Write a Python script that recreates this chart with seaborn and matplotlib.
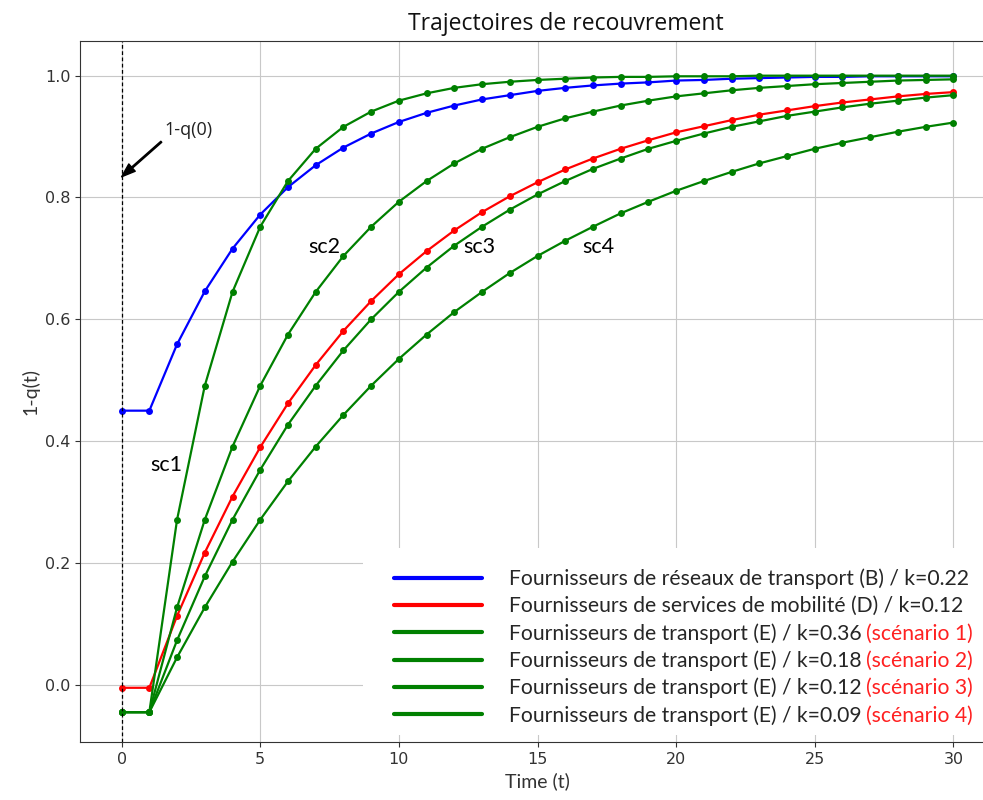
import numpy as np
import pandas as pd
import seaborn as sns
import matplotlib.pyplot as plt
from matplotlib.lines import Line2D
from matplotlib.patches import Rectangle

## data
temps = list(range(31))

reseaux_b = [0.45, 0.45, 0.559, 0.646, 0.716, 0.772, 0.817, 0.853, 0.882, 0.905,
             0.924, 0.939, 0.951, 0.961, 0.968, 0.975, 0.980, 0.984, 0.987, 0.989,
             0.992, 0.993, 0.995, 0.996, 0.997, 0.998, 0.998, 0.999, 0.999, 0.999, 0.999]
mobilite_d = [-0.005, -0.005, 0.113, 0.217, 0.309, 0.390, 0.462, 0.525, 0.581, 0.630,
              0.674, 0.712, 0.746, 0.776, 0.802, 0.825, 0.846, 0.864, 0.880, 0.894,
              0.907, 0.917, 0.927, 0.936, 0.943, 0.950, 0.956, 0.961, 0.966, 0.970, 0.973]
transport_sc1 = [-0.045, -0.045, 0.271, 0.491, 0.645, 0.752, 0.827, 0.880, 0.916, 0.941,
                 0.959, 0.971, 0.980, 0.986, 0.990, 0.993, 0.995, 0.997, 0.998, 0.998,
                 0.999, 0.999, 0.999, 1.0, 1.0, 1.0, 1.0, 1.0, 1.0, 1.0, 1.0]
transport_sc2 = [-0.045, -0.045, 0.127, 0.271, 0.391, 0.491, 0.575, 0.645, 0.704, 0.752,
                 0.793, 0.827, 0.856, 0.880, 0.899, 0.916, 0.930, 0.941, 0.951, 0.959,
                 0.966, 0.971, 0.976, 0.980, 0.983, 0.986, 0.988, 0.990, 0.992, 0.993, 0.994]
transport_sc3 = [-0.045, -0.045, 0.073, 0.178, 0.271, 0.353, 0.427, 0.491, 0.549, 0.600,
                 0.645, 0.685, 0.721, 0.752, 0.780, 0.805, 0.827, 0.847, 0.864, 0.880,
                 0.893, 0.905, 0.916, 0.925, 0.934, 0.941, 0.948, 0.954, 0.959, 0.964, 0.968]
transport_sc4 = [-0.045, -0.045, 0.045, 0.127, 0.202, 0.271, 0.334, 0.391, 0.443, 0.491,
                 0.535, 0.575, 0.612, 0.645, 0.676, 0.704, 0.729, 0.752, 0.774, 0.793,
                 0.811, 0.827, 0.842, 0.856, 0.868, 0.880, 0.890, 0.899, 0.908, 0.916, 0.923]

series = [reseaux_b, mobilite_d, transport_sc1, transport_sc2, transport_sc3, transport_sc4]
couleurs = ['blue', 'red', 'green', 'green', 'green', 'green']
legendes = ['Fournisseurs de réseaux de transport (B) / k=0.22',
            'Fournisseurs de services de mobilité (D) / k=0.12',
            'Fournisseurs de transport (E) / k=0.36',
            'Fournisseurs de transport (E) / k=0.18',
            'Fournisseurs de transport (E) / k=0.12',
            'Fournisseurs de transport (E) / k=0.09']
scenarios = ['', '', '(scénario 1)', '(scénario 2)', '(scénario 3)', '(scénario 4)']
etiquettes_sc = ['sc1', 'sc2', 'sc3', 'sc4']
pos_sc = [(1.6, 0.36), (7.3, 0.718), (12.9, 0.718), (17.2, 0.718)]

## style
sns.set_style('ticks', {'axes.grid': True, 'grid.color': '#c8c8c8',
                        'axes.edgecolor': '#333333'})
plt.rcParams['font.family'] = ['DejaVu Sans']

fig = plt.figure(figsize=(9.83, 8), dpi=100)
ax = fig.add_axes([0.0814, 0.0725, 0.9308, 0.8763])
ax.set_axisbelow(True)
ax.spines['right'].set_visible(False)

## curves
for valeurs, couleur in zip(series, couleurs):
    sns.lineplot(x=temps, y=valeurs, color=couleur, marker='o',
                 markersize=5, markeredgewidth=0, linewidth=1.6,
                 ax=ax, legend=False)

ax.axvline(0, color='black', linestyle=(0, (3, 2)), linewidth=0.9)

ax.set_xlim(-1.5, 31.5)
ax.set_ylim(-0.094, 1.057)
ax.set_xticks(np.arange(0, 31, 5))
ax.set_yticks(np.arange(0, 1.01, 0.2))
ax.tick_params(labelsize=11.5, colors='#333333', labelcolor='#333333')

ax.set_title('Trajectoires de recouvrement', x=0.531, pad=8,
             fontsize=16.5, family='Open Sans', color='#111111')
ax.set_xlabel('Time (t)', fontsize=14, family='Lato', color='#333333')
ax.set_ylabel('1-q(t)', fontsize=14, family='Lato', color='#333333')

## annotations
ax.annotate('1-q(0)', xy=(0, 0.834), xytext=(1.55, 0.911),
            ha='left', va='center', fontsize=13, family='Open Sans',
            color='#222222',
            arrowprops=dict(facecolor='black', edgecolor='black', width=1,
                            headwidth=7, headlength=10, shrink=0.0))
for texte, (px_, py_) in zip(etiquettes_sc, pos_sc):
    ax.text(px_, py_, texte, ha='center', va='center', fontsize=15.5,
            family='Lato', color='black')

## white box behind the legend
ax.add_patch(Rectangle((0.309, 0.01), 0.70, 0.267, transform=ax.transAxes,
                       facecolor='white', edgecolor='none', zorder=1))

poignees = [Line2D([0], [0], color=c, linewidth=3) for c in couleurs]
leg = ax.legend(poignees, legendes, loc='upper left',
                bbox_to_anchor=(0.332, 0.262), frameon=False, borderpad=0,
                handlelength=4.17, handletextpad=1.28, labelspacing=0.32,
                prop={'family': 'Lato', 'size': 15.2})

for texte_leg, sc in zip(leg.get_texts(), scenarios):
    if sc:
        ax.annotate(sc, xy=(1, 0), xycoords=texte_leg, xytext=(3, 0),
                    textcoords='offset points', ha='left', va='bottom',
                    color='#ff2020', fontsize=15.2, family='Lato',
                    annotation_clip=False, zorder=6)

plt.savefig('out.png', dpi=100)
plt.close()
